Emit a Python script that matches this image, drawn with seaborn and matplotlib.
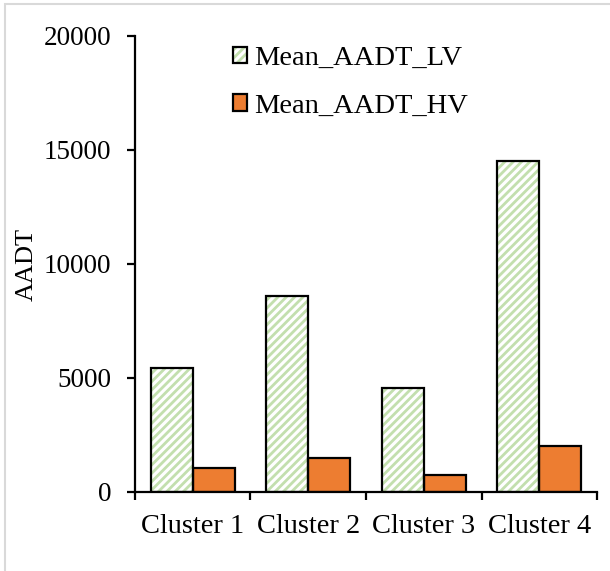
import matplotlib
matplotlib.use("Agg")
import matplotlib.pyplot as plt
from matplotlib.patches import Rectangle, Patch
from matplotlib.legend_handler import HandlerTuple
from matplotlib.ticker import FixedLocator
import seaborn as sns
import pandas as pd

# Cluster means of annual average daily traffic
clusters = ["Cluster 1", "Cluster 2", "Cluster 3", "Cluster 4"]
mean_aadt_lv = [5440, 8590, 4540, 14510]
mean_aadt_hv = [1070, 1480, 760, 2020]
series_names = ["Mean_AADT_LV", "Mean_AADT_HV"]
y_ticks = [0, 5000, 10000, 15000, 20000]

LV_STRIPE = "#c3dfae"
HV_FILL = "#ed7d31"
EDGE_W = 1.6

df = pd.DataFrame({
    "Cluster": clusters * 2,
    "AADT": mean_aadt_lv + mean_aadt_hv,
    "Series": [series_names[0]] * len(clusters) + [series_names[1]] * len(clusters),
})

sns.set_style("white")
plt.rcParams["font.family"] = ["Liberation Serif", "DejaVu Serif"]
plt.rcParams["text.color"] = "black"
plt.rcParams["axes.labelcolor"] = "black"
plt.rcParams["hatch.linewidth"] = 2.0

fig = plt.figure(figsize=(6.10, 5.71), dpi=100)
ax = fig.add_axes([0.2213, 0.1384, 0.7574, 0.7986])

sns.barplot(data=df, x="Cluster", y="AADT", hue="Series", order=clusters,
            hue_order=series_names,
            palette={series_names[0]: "white", series_names[1]: HV_FILL},
            saturation=1, width=0.73, edgecolor="black", linewidth=EDGE_W,
            legend=False, errorbar=None, ax=ax)

# Light-vehicle bars: green diagonal stripes under a black outline
for bar in ax.containers[0]:
    bar.set_facecolor("white")
    bar.set_hatch("////")
    bar.set_edgecolor(LV_STRIPE)
    bar.set_linewidth(0)
    ax.add_patch(Rectangle(bar.get_xy(), bar.get_width(), bar.get_height(),
                           fill=False, edgecolor="black", linewidth=EDGE_W,
                           zorder=bar.get_zorder() + 0.1))

ax.set_ylim(0, 20000)
ax.set_xlim(-0.5, len(clusters) - 0.5)
ax.set_yticks(y_ticks)
ax.set_yticklabels([str(v) for v in y_ticks], fontsize=19.5, color="black")
ax.set_xticks(range(len(clusters)))
ax.set_xticklabels(clusters, fontsize=20.5, color="black")
ax.xaxis.set_minor_locator(FixedLocator([i - 0.5 for i in range(len(clusters) + 1)]))
ax.tick_params(axis="x", which="major", length=0, pad=16)
ax.tick_params(axis="x", which="minor", length=6, width=EDGE_W, direction="out",
               bottom=True, color="black")
ax.tick_params(axis="y", which="major", length=6, width=EDGE_W, direction="out",
               left=True, pad=11, color="black")

ax.set_xlabel("")
ax.set_ylabel("AADT", fontsize=19, labelpad=4, color="black")

for side in ("top", "right"):
    ax.spines[side].set_visible(False)
for side in ("left", "bottom"):
    ax.spines[side].set_color("black")
    ax.spines[side].set_linewidth(EDGE_W)

lv_hatch = Patch(facecolor="white", edgecolor=LV_STRIPE, hatch="////", linewidth=0)
lv_edge = Patch(facecolor="none", edgecolor="black", linewidth=EDGE_W)
hv_patch = Patch(facecolor=HV_FILL, edgecolor="black", linewidth=EDGE_W)
ax.legend([(lv_hatch, lv_edge), hv_patch], series_names,
          handler_map={tuple: HandlerTuple(ndivide=1, pad=0)},
          loc="upper left", bbox_to_anchor=(0.19, 1.0), frameon=False,
          fontsize=20.5, handlelength=0.5, handleheight=0.5,
          handletextpad=0.25, labelspacing=0.8, borderpad=0, borderaxespad=0.35)

# Thin grey frame around the chart area
fig.add_artist(Rectangle((5 / 610, -0.1), 1.2, 567 / 571 + 0.1,
                         transform=fig.transFigure, fill=False,
                         edgecolor="#d9d9d9", linewidth=1.5))

fig.savefig("out.png", dpi=100, facecolor="white")
